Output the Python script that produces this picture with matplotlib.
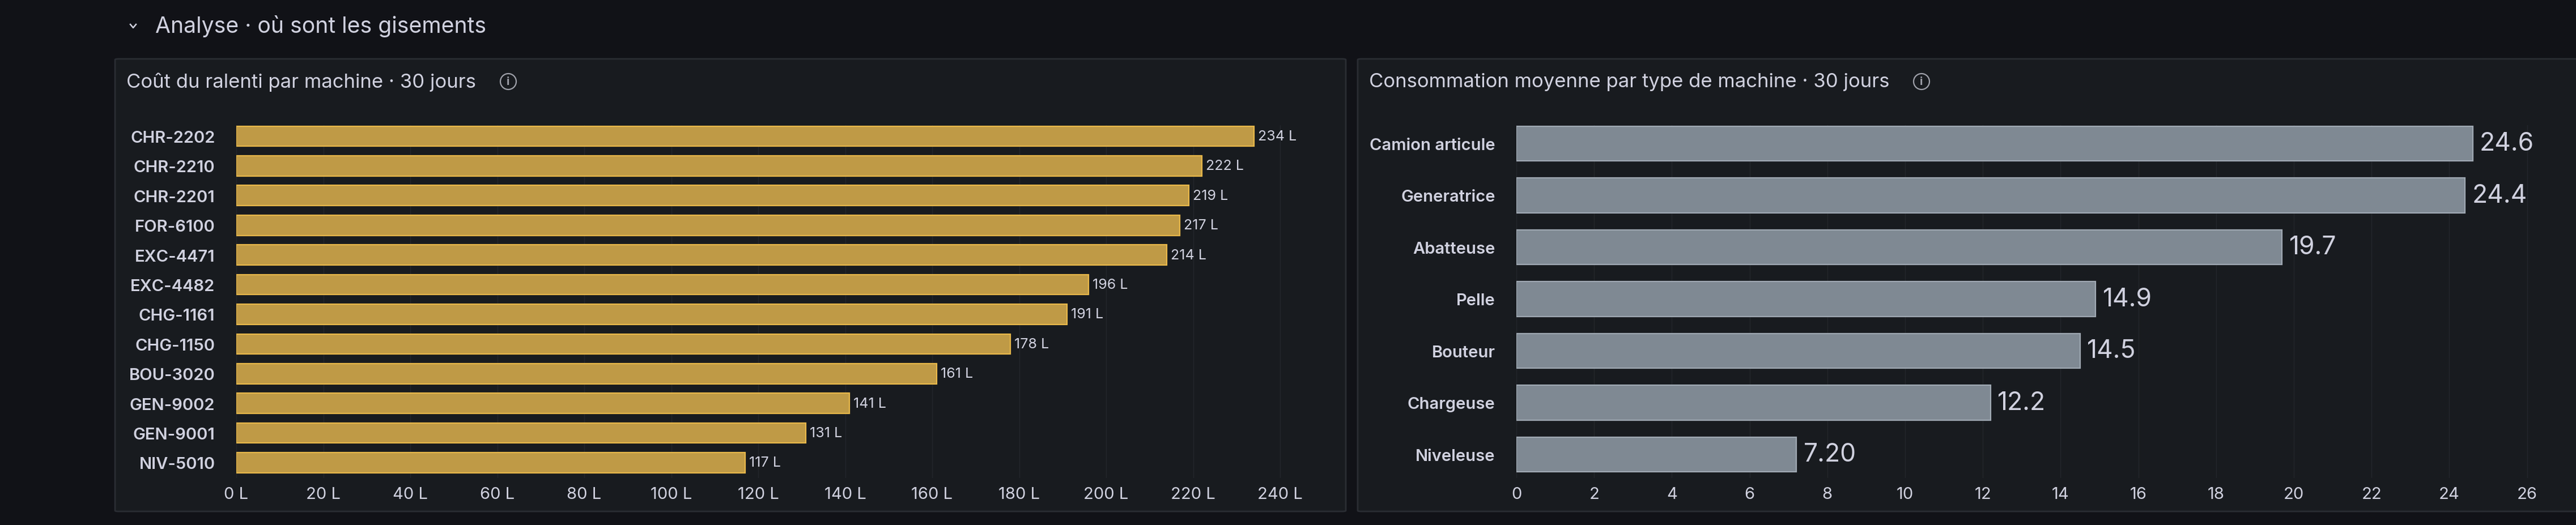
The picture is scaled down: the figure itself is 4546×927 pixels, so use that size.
import matplotlib
matplotlib.use("Agg")
import matplotlib.pyplot as plt
from matplotlib.patches import FancyBboxPatch, Ellipse
from matplotlib.lines import Line2D
from matplotlib.ticker import FuncFormatter

# ---------------- data ----------------
section_title = "Analyse · où sont les gisements"

left_title = "Coût du ralenti par machine · 30 jours"
machines = ["CHR-2202", "CHR-2210", "CHR-2201", "FOR-6100", "EXC-4471", "EXC-4482",
            "CHG-1161", "CHG-1150", "BOU-3020", "GEN-9002", "GEN-9001", "NIV-5010"]
idle_litres = [234, 222, 219, 217, 214, 196, 191, 178, 161, 141, 131, 117]

right_title = "Consommation moyenne par type de machine · 30 jours"
machine_types = ["Camion articule", "Generatrice", "Abatteuse", "Pelle",
                 "Bouteur", "Chargeuse", "Niveleuse"]
avg_consumption = [24.6, 24.4, 19.7, 14.9, 14.5, 12.2, 7.20]

# ---------------- style ----------------
W, H = 4546, 928
DPI = 100
PAGE_BG = "#111217"
PANEL_BG = "#181b1f"
PANEL_EDGE = "#2a2d33"
GRID = "#23262c"
TEXT = "#d0d1df"
GOLD_FILL = "#bf9a46"
GOLD_EDGE = "#e9b84a"
GRAY_FILL = "#7f8993"
GRAY_EDGE = "#a0a9b3"

plt.rcParams["font.family"] = ["Inter", "DejaVu Sans"]

fig = plt.figure(figsize=(W / DPI, H / DPI), dpi=DPI, facecolor=PAGE_BG)


def fx(px):
    return px / W


def fy(py):
    return 1 - py / H


def panel(x0, y0, x1, y1):
    p = FancyBboxPatch((fx(x0), fy(y1)), fx(x1) - fx(x0), fy(y0) - fy(y1),
                       boxstyle="round,pad=0,rounding_size=0.0015",
                       transform=fig.transFigure, facecolor=PANEL_BG,
                       edgecolor=PANEL_EDGE, linewidth=2.0, zorder=-5)
    fig.patches.append(p)


def info_icon(cx, cy):
    r = 14
    e = Ellipse((fx(cx), fy(cy)), 2 * r / W, 2 * r / H, transform=fig.transFigure,
                fill=False, edgecolor="#9fa1aa", linewidth=1.6)
    fig.patches.append(e)
    fig.text(fx(cx), fy(cy) - 0.5 / H, "i", color="#9fa1aa", fontsize=14,
             ha="center", va="center", fontweight="bold")


# section header
fig.lines.append(Line2D([fx(230), fx(235), fx(240)], [fy(44), fy(50), fy(44)],
                        transform=fig.transFigure, color=TEXT, linewidth=1.8))
fig.text(fx(274), fy(47), section_title, color=TEXT, fontsize=28.2,
         ha="left", va="center")

# panels
panel(203, 105, 2375, 904)
panel(2396, 105, 4600, 904)

fig.text(fx(223), fy(145), left_title, color=TEXT, fontsize=25, ha="left", va="center")
info_icon(897, 145)
fig.text(fx(2416), fy(145), right_title, color=TEXT, fontsize=25, ha="left", va="center")
info_icon(3391, 145)


def setup_axes(ax):
    ax.set_facecolor("none")
    ax.set_zorder(2)
    for s in ax.spines.values():
        s.set_visible(False)
    ax.tick_params(axis="both", length=0, colors=TEXT)
    ax.grid(axis="x", color=GRID, linewidth=1.0)
    ax.set_axisbelow(True)


# ---------------- left chart ----------------
ax_top, ax_bot = 222, 845
lx0 = 417
lxmax = 250
lx1 = lx0 + lxmax * 7.675
axL = fig.add_axes([fx(lx0), fy(ax_bot), fx(lx1) - fx(lx0), fy(ax_top) - fy(ax_bot)])
setup_axes(axL)
posL = list(range(len(machines)))
barsL = axL.barh(posL, idle_litres, height=0.68, color=GOLD_FILL,
                 edgecolor=GOLD_EDGE, linewidth=1.6)
axL.set_xlim(0, lxmax)
pitchL = (818 - 241.5) / 11
axL.set_ylim(11 + (ax_bot - 818) / pitchL, -(241.5 - ax_top) / pitchL)
axL.set_yticks(posL)
axL.set_yticklabels(machines, fontsize=21, fontweight="semibold")
axL.set_xticks(list(range(0, 241, 20)))
axL.xaxis.set_major_formatter(FuncFormatter(lambda v, p: f"{v:.0f} L"))
axL.tick_params(axis="x", labelsize=21, pad=11)
axL.tick_params(axis="y", pad=27)
axL.bar_label(barsL, labels=[f"{v:.0f} L" for v in idle_litres], padding=5,
              color=TEXT, fontsize=18)

# ---------------- right chart ----------------
rx0 = 2676
rxmax = 27
rx1 = rx0 + rxmax * 68.6
axR = fig.add_axes([fx(rx0), fy(ax_bot), fx(rx1) - fx(rx0), fy(ax_top) - fy(ax_bot)])
setup_axes(axR)
posR = list(range(len(machine_types)))
barsR = axR.barh(posR, avg_consumption, height=0.667, color=GRAY_FILL,
                 edgecolor=GRAY_EDGE, linewidth=1.6)
axR.set_xlim(0, rxmax)
pitchR = (803.5 - 254.5) / 6
axR.set_ylim(6 + (ax_bot - 803.5) / pitchR, -(254.5 - ax_top) / pitchR)
axR.set_yticks(posR)
axR.set_yticklabels(machine_types, fontsize=21, fontweight="semibold")
axR.set_xticks(list(range(0, 27, 2)))
axR.tick_params(axis="x", labelsize=21, pad=11)
axR.tick_params(axis="y", pad=27)
axR.bar_label(barsR, labels=[f"{v:#.3g}" for v in avg_consumption], padding=9,
              color=TEXT, fontsize=32)

fig.savefig("out.png", dpi=DPI, facecolor=PAGE_BG)
